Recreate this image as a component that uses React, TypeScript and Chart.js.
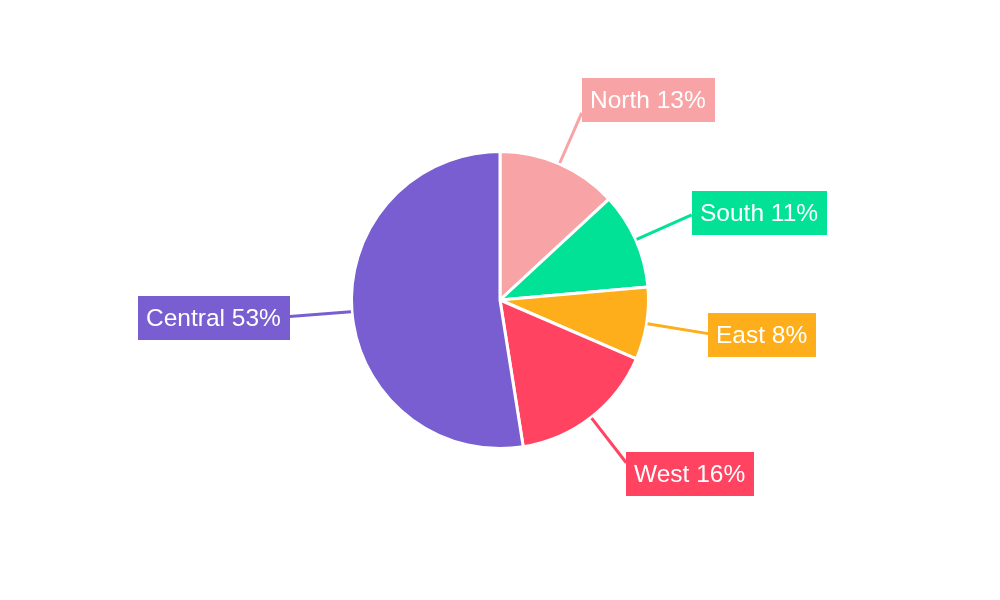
import React, { useEffect, useRef } from "react";
import { Chart, registerables } from "chart.js";

Chart.register(...registerables);

const categories = ["North", "South", "East", "West", "Central"];
const values = [13.1, 10.5, 7.9, 16.0, 52.5];
const percentLabels = ["13%", "11%", "8%", "16%", "53%"];
const colors = ["#F8A4A6", "#02E296", "#FDAE1A", "#FF4360", "#785ED0"];

const calloutPlugin = {
  id: "callouts",
  afterDatasetsDraw(chart: any) {
    const ctx = chart.ctx as CanvasRenderingContext2D;
    const meta = chart.getDatasetMeta(0);
    const font = '24.5px "Liberation Sans", Arial, sans-serif';
    const pad = 8.5;
    const boxH = 44;
    ctx.save();
    meta.data.forEach((arc: any, i: number) => {
      const { x, y, startAngle, endAngle, outerRadius } = arc.getProps(
        ["x", "y", "startAngle", "endAngle", "outerRadius"],
        true
      );
      const mid = (startAngle + endAngle) / 2;
      const dx = Math.cos(mid);
      const dy = Math.sin(mid);
      const r0 = outerRadius + 1;
      const r1 = outerRadius + 54.5 + 8 * dx * dx;
      const sx = x + dx * r0;
      const sy = y + dy * r0;
      const ex = x + dx * r1;
      const ey = y + dy * r1;
      const color = colors[i];

      ctx.strokeStyle = color;
      ctx.lineWidth = 3;
      ctx.beginPath();
      ctx.moveTo(sx, sy);
      ctx.lineTo(ex, ey);
      ctx.stroke();

      const text = `${categories[i]} ${percentLabels[i]}`;
      ctx.font = font;
      const tw = ctx.measureText(text).width;
      const boxW = tw + pad * 2;
      const bx = dx >= 0 ? ex : ex - boxW;
      const cy = ey + 1 + dy * Math.abs(dy) * 16;
      const by = cy - boxH / 2;
      ctx.fillStyle = color;
      ctx.fillRect(Math.round(bx), Math.round(by), Math.round(boxW), boxH);
      ctx.fillStyle = "#ffffff";
      ctx.textBaseline = "alphabetic";
      ctx.textAlign = "left";
      ctx.fillText(text, Math.round(bx) + pad - 0.5, Math.round(by) + boxH / 2 + 8);
    });
    ctx.restore();
  },
};

export default function App() {
  const canvasRef = useRef<HTMLCanvasElement | null>(null);

  useEffect(() => {
    if (!canvasRef.current) return;
    const chart = new Chart(canvasRef.current, {
      type: "pie",
      data: {
        labels: categories,
        datasets: [
          {
            data: values,
            backgroundColor: colors,
            borderColor: "#ffffff",
            borderWidth: 3,
          },
        ],
      },
      options: {
        animation: false,
        responsive: true,
        maintainAspectRatio: false,
        radius: 148.5,
        layout: { padding: 0 },
        plugins: {
          legend: { display: false },
          tooltip: { enabled: false },
        },
      } as any,
      plugins: [calloutPlugin],
    });
    return () => chart.destroy();
  }, []);

  return (
    <div
      style={{
        position: "absolute",
        left: 0,
        top: 0,
        width: 1000,
        height: 600,
        background: "#ffffff",
      }}
    >
      <canvas ref={canvasRef} />
    </div>
  );
}
